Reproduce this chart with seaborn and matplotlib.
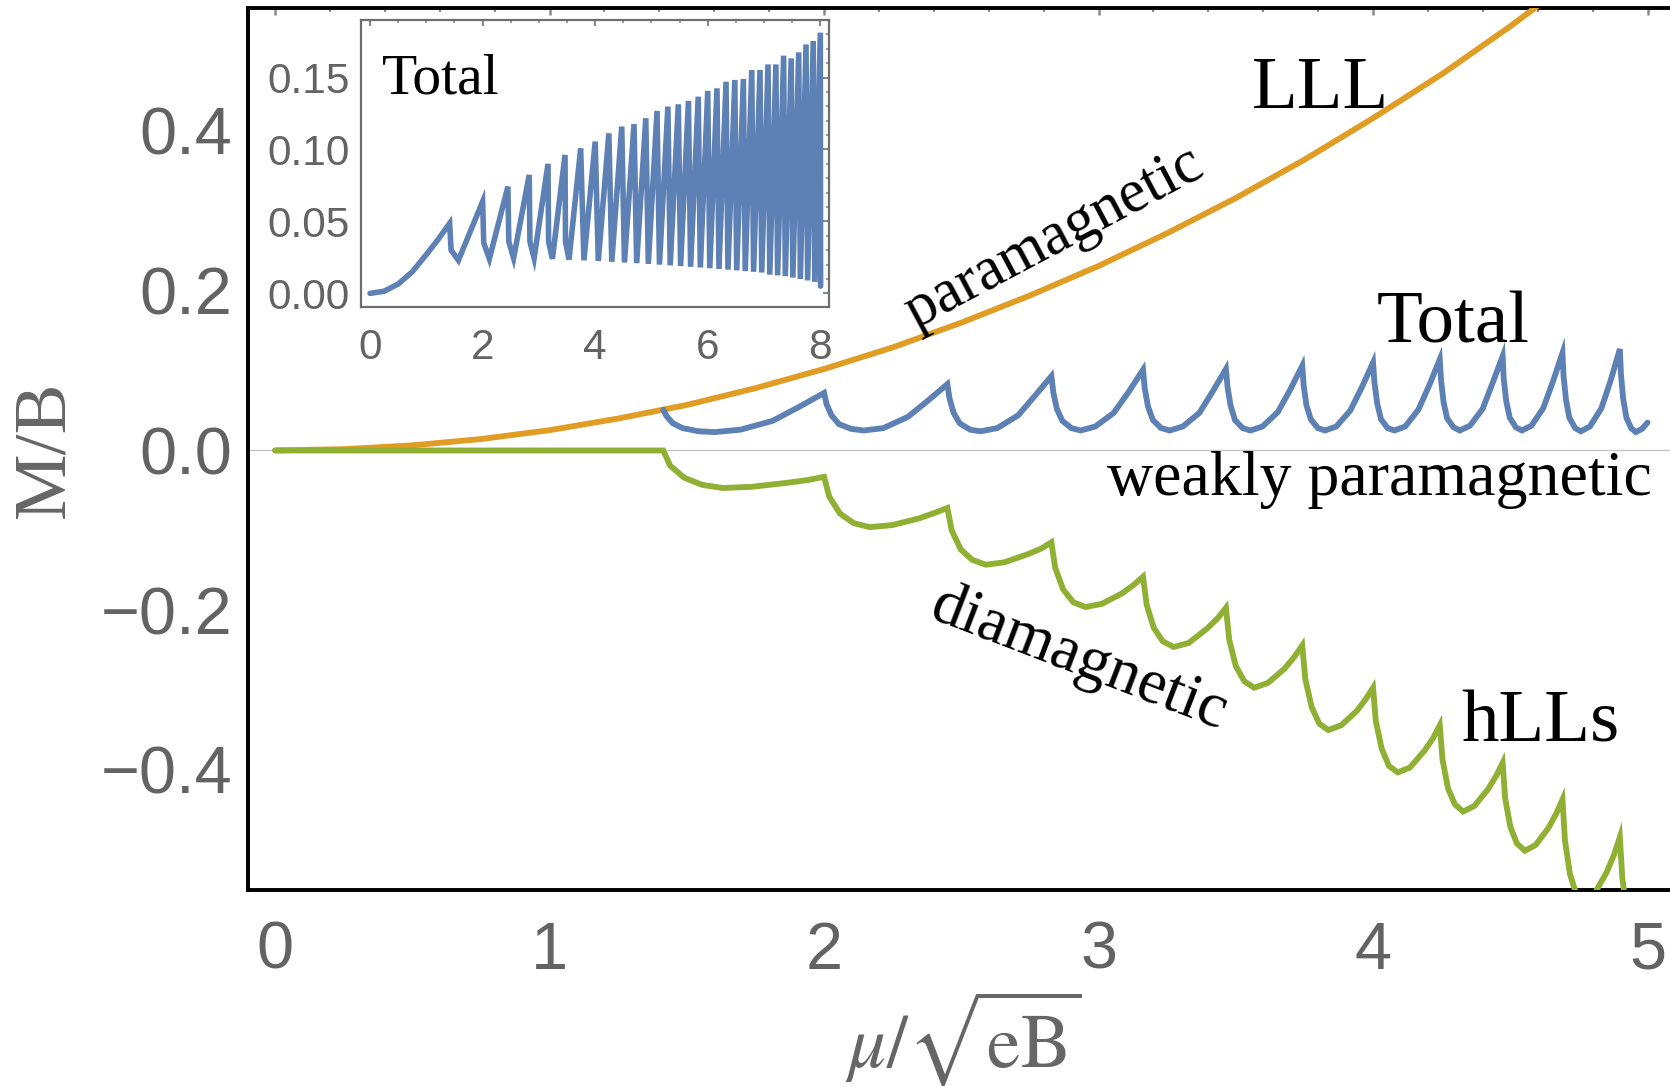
import numpy as np
import pandas as pd
import matplotlib
matplotlib.use("Agg")
import matplotlib.pyplot as plt
import seaborn as sns
from matplotlib.ticker import MultipleLocator, FixedLocator

sns.set_theme(style="white")
plt.rcParams["font.family"] = ["Liberation Sans", "DejaVu Sans"]
plt.rcParams["mathtext.fontset"] = "stix"

BLUE = "#5E81B5"
ORANGE = "#E19C24"
GREEN = "#8FB032"
TICKC = "#8a8a8a"
LABC = "#636363"

# ---------------- main plot data ----------------
lll_x = [0.0, 0.25, 0.5, 0.75, 1.0, 1.25, 1.5, 1.75, 2.0, 2.25, 2.5, 2.75,
         3.0, 3.25, 3.5, 3.75, 4.0, 4.25, 4.5, 4.75]
lll_y = [0.0, 0.0016, 0.0064, 0.0143, 0.0254, 0.040, 0.057, 0.078, 0.102,
         0.129, 0.160, 0.194, 0.231, 0.272, 0.316, 0.364, 0.416, 0.471,
         0.531, 0.595]

hll_x = [0.0, 1.414, 1.439, 1.490, 1.555, 1.631, 1.736, 1.865, 1.941,
         2.0, 2.019, 2.058, 2.108, 2.166, 2.247, 2.346, 2.404,
         2.449, 2.465, 2.498, 2.540, 2.589, 2.657, 2.741, 2.790,
         2.828, 2.842, 2.871, 2.908, 2.952, 3.012, 3.085, 3.129,
         3.162, 3.175, 3.201, 3.234, 3.274, 3.328, 3.395, 3.434,
         3.464, 3.476, 3.500, 3.531, 3.567, 3.617, 3.678, 3.714,
         3.742, 3.753, 3.776, 3.804, 3.837, 3.884, 3.941, 3.974,
         4.000, 4.010, 4.032, 4.058, 4.090, 4.134, 4.187, 4.219,
         4.243, 4.253, 4.273, 4.298, 4.328, 4.369, 4.419, 4.449,
         4.472, 4.481, 4.500, 4.524, 4.553, 4.592, 4.640, 4.668,
         4.690, 4.699, 4.717, 4.740, 4.767, 4.805, 4.851, 4.878,
         4.899, 4.908, 4.925, 4.950, 5.0]
hll_y = [0.0, 0.0, -0.019, -0.034, -0.043, -0.047, -0.0455, -0.0405, -0.037,
         -0.033, -0.058, -0.079, -0.091, -0.096, -0.0935, -0.085, -0.078,
         -0.072, -0.100, -0.124, -0.137, -0.143, -0.140, -0.130, -0.123,
         -0.115, -0.147, -0.174, -0.190, -0.196, -0.192, -0.179, -0.168,
         -0.158, -0.193, -0.222, -0.239, -0.246, -0.241, -0.223, -0.210,
         -0.197, -0.237, -0.270, -0.289, -0.297, -0.291, -0.273, -0.258,
         -0.244, -0.286, -0.321, -0.342, -0.350, -0.344, -0.326, -0.311,
         -0.297, -0.339, -0.374, -0.395, -0.403, -0.397, -0.376, -0.360,
         -0.344, -0.387, -0.423, -0.443, -0.452, -0.445, -0.424, -0.407,
         -0.391, -0.435, -0.471, -0.492, -0.501, -0.494, -0.472, -0.454,
         -0.437, -0.488, -0.530, -0.555, -0.565, -0.556, -0.528, -0.506,
         -0.484, -0.535, -0.580, -0.610, -0.620]

tot_x = [1.414, 1.426, 1.449, 1.484, 1.543, 1.602, 1.695, 1.812, 1.906,
         2.000, 2.009, 2.027, 2.054, 2.099, 2.144, 2.216, 2.305, 2.377,
         2.449, 2.457, 2.472, 2.494, 2.532, 2.570, 2.631, 2.707, 2.767,
         2.828, 2.835, 2.848, 2.868, 2.901, 2.935, 2.988, 3.055, 3.109,
         3.162, 3.168, 3.180, 3.198, 3.228, 3.259, 3.307, 3.367, 3.416,
         3.464, 3.470, 3.481, 3.497, 3.525, 3.553, 3.597, 3.653, 3.698,
         3.742, 3.747, 3.757, 3.773, 3.799, 3.825, 3.866, 3.917, 3.959,
         4.000, 4.005, 4.015, 4.029, 4.053, 4.078, 4.117, 4.165, 4.204,
         4.243, 4.248, 4.257, 4.270, 4.293, 4.316, 4.353, 4.399, 4.435,
         4.472, 4.476, 4.485, 4.498, 4.520, 4.542, 4.577, 4.620, 4.655,
         4.690, 4.694, 4.703, 4.715, 4.736, 4.757, 4.790, 4.832, 4.866,
         4.899, 4.903, 4.911, 4.923, 4.940, 4.957, 4.980, 5.0]
tot_y = [0.051, 0.043, 0.034, 0.028, 0.024, 0.023, 0.026, 0.037, 0.054,
         0.072, 0.058, 0.044, 0.033, 0.027, 0.025, 0.028, 0.042, 0.062,
         0.083, 0.065, 0.047, 0.034, 0.026, 0.024, 0.028, 0.044, 0.068,
         0.093, 0.073, 0.052, 0.037, 0.028, 0.025, 0.030, 0.047, 0.073,
         0.101, 0.078, 0.055, 0.038, 0.028, 0.025, 0.030, 0.047, 0.074,
         0.102, 0.079, 0.056, 0.038, 0.028, 0.025, 0.030, 0.048, 0.076,
         0.106, 0.082, 0.057, 0.039, 0.028, 0.025, 0.030, 0.050, 0.079,
         0.110, 0.085, 0.059, 0.039, 0.028, 0.025, 0.030, 0.051, 0.081,
         0.114, 0.087, 0.060, 0.040, 0.029, 0.025, 0.031, 0.052, 0.084,
         0.118, 0.090, 0.062, 0.041, 0.029, 0.025, 0.031, 0.053, 0.086,
         0.122, 0.093, 0.063, 0.041, 0.028, 0.024, 0.030, 0.053, 0.088,
         0.127, 0.096, 0.065, 0.041, 0.028, 0.023, 0.027, 0.035]

main_xticks = [0, 1, 2, 3, 4, 5]
main_xlabels = ["0", "1", "2", "3", "4", "5"]
main_yticks = [-0.4, -0.2, 0.0, 0.2, 0.4]
main_ylabels = ["\u22120.4", "\u22120.2", "0.0", "0.2", "0.4"]

# ---------------- inset data ----------------
ins_rise_x = [0.0, 0.25, 0.5, 0.75, 1.0, 1.2]
ins_rise_y = [0.0, 0.0015, 0.0065, 0.015, 0.027, 0.037]
ins_cusp_x = [1.414, 2.000, 2.449, 2.828, 3.162, 3.464, 3.742, 4.000,
              4.243, 4.472, 4.690, 4.899, 5.099, 5.292, 5.477, 5.657,
              5.831, 6.000, 6.164, 6.325, 6.481, 6.633, 6.782, 6.928,
              7.071, 7.211, 7.348, 7.483, 7.616, 7.746, 7.874, 8.000]
ins_peak_y = [0.0487, 0.0638, 0.0742, 0.0823, 0.0900, 0.0962, 0.1008, 0.1055,
              0.1112, 0.1159, 0.1177, 0.1217, 0.1268, 0.1298, 0.1314, 0.1337,
              0.1367, 0.1407, 0.1425, 0.1471, 0.1483, 0.1490, 0.1552, 0.1552,
              0.1591, 0.1591, 0.1652, 0.1633, 0.1675, 0.1730, 0.1754, 0.1812]
ins_drop_x = [1.44, 2.02, 2.465, 2.84, 3.172, 3.472]
ins_drop_y = [0.030, 0.035, 0.036, 0.036, 0.036, 0.036]
ins_trough_x = [1.57, 2.12, 2.55, 2.915, 3.24, 3.535, 3.80, 4.055,
                4.295, 4.52, 4.737, 4.944, 5.142, 5.333, 5.517, 5.695,
                5.868, 6.036, 6.199, 6.359, 6.514, 6.666, 6.814, 6.959,
                7.102, 7.241, 7.378, 7.512, 7.645, 7.774, 7.902]
ins_trough_y = [0.023, 0.024, 0.0245, 0.0245, 0.024, 0.0235, 0.023, 0.0225,
                0.022, 0.0215, 0.021, 0.0205, 0.020, 0.0195, 0.019, 0.0185,
                0.018, 0.0175, 0.017, 0.0165, 0.016, 0.0155, 0.015, 0.0145,
                0.013, 0.0125, 0.012, 0.011, 0.010, 0.009, 0.008]
ins_end_x = [8.005]
ins_end_y = [0.005]

ins_xticks = [0, 2, 4, 6, 8]
ins_xlabels = ["0", "2", "4", "6", "8"]
ins_yticks = [0.0, 0.05, 0.10, 0.15]
ins_ylabels = ["0.00", "0.05", "0.10", "0.15"]

# build inset table
ix, iy = list(ins_rise_x), list(ins_rise_y)
for n in range(len(ins_cusp_x)):
    ix.append(ins_cusp_x[n]); iy.append(ins_peak_y[n])
    if n < len(ins_drop_x):
        ix.append(ins_drop_x[n]); iy.append(ins_drop_y[n])
    if n < len(ins_trough_x):
        ix.append(ins_trough_x[n]); iy.append(ins_trough_y[n])
ix += ins_end_x; iy += ins_end_y
df_ins = pd.DataFrame({"x": ix, "y": iy})

df_lll = pd.DataFrame({"x": lll_x, "y": lll_y})
df_hll = pd.DataFrame({"x": hll_x, "y": hll_y})
df_tot = pd.DataFrame({"x": tot_x, "y": tot_y})

# ---------------- figure ----------------
fig = plt.figure(figsize=(16.7, 10.86), dpi=100)
fig.patch.set_facecolor("white")
ax = fig.add_axes([0.1483, 0.1805, 0.8547, 0.8117])
ax.set_facecolor("white")

ax.axhline(0, color="#c4c4c4", linewidth=0.9, zorder=1)
LW = 4.2
for df, col, z in [(df_lll, ORANGE, 3), (df_hll, GREEN, 3), (df_tot, BLUE, 4)]:
    sns.lineplot(data=df, x="x", y="y", ax=ax, color=col, linewidth=LW,
                 sort=False, estimator=None, zorder=z)
for ln in ax.get_lines()[1:]:
    ln.set_linewidth(LW)
    ln.set_solid_joinstyle("miter")

ax.set_xlim(-0.1, 5.1)
ax.set_ylim(-0.5502, 0.5533)
for s in ["left", "top", "bottom"]:
    ax.spines[s].set_color("black")
    ax.spines[s].set_linewidth(2.8)
ax.spines["right"].set_visible(False)

ax.xaxis.set_major_locator(FixedLocator(main_xticks))
ax.set_xticklabels(main_xlabels)
ax.xaxis.set_minor_locator(MultipleLocator(0.2))
ax.yaxis.set_major_locator(FixedLocator(main_yticks))
ax.set_yticklabels(main_ylabels)
ax.yaxis.set_minor_locator(MultipleLocator(0.05))
ax.tick_params(which="both", direction="in", color=TICKC, top=True,
               right=False, labelcolor=LABC)
ax.tick_params(which="major", length=5, width=1.8, labelsize=48)
ax.tick_params(which="minor", length=3, width=1.4)
ax.tick_params(axis="x", which="major", pad=22)
ax.tick_params(axis="y", which="major", pad=11)

ax.set_xlabel(r"$\mu/\sqrt{\mathrm{eB}}$", fontsize=54, color="#666666")
ax.xaxis.set_label_coords(0.501, -0.112)
ax.set_ylabel("M/B", fontsize=54, color="#666666", family="Liberation Serif")
ax.yaxis.set_label_coords(-0.118, 0.5)

SERIF = ["Liberation Serif", "DejaVu Serif"]
ax.text(3.81, 0.429, "LLL", fontsize=54, family=SERIF, ha="center", va="baseline", color="black")
ax.text(4.292, 0.1346, "Total", fontsize=54, family=SERIF, ha="center", va="baseline", color="black")
ax.text(4.024, -0.0557, "weakly paramagnetic", fontsize=46, family=SERIF, ha="center", va="baseline", color="black")
ax.text(4.61, -0.3646, "hLLs", fontsize=54, family=SERIF, ha="center", va="baseline", color="black")
ax.text(2.84, 0.266, "paramagnetic", fontsize=44, family=SERIF, ha="center", va="center",
        rotation=28, rotation_mode="anchor", color="black")
ax.text(2.93, -0.262, "diamagnetic", fontsize=46, family=SERIF, ha="center", va="center",
        rotation=-21, rotation_mode="anchor", color="black")

# ---------------- inset ----------------
axi = fig.add_axes([0.2162, 0.717, 0.2804, 0.2646])
axi.set_facecolor("white")
sns.lineplot(data=df_ins, x="x", y="y", ax=axi, color=BLUE, linewidth=4.0,
             sort=False, estimator=None)
for ln in axi.get_lines():
    ln.set_linewidth(4.0)
    ln.set_solid_joinstyle("miter")
axi.set_xlim(-0.16, 8.16)
axi.set_ylim(-0.0097, 0.190)
for s in axi.spines.values():
    s.set_color("#6e6e6e")
    s.set_linewidth(1.6)
    s.set_visible(True)
axi.xaxis.set_major_locator(FixedLocator(ins_xticks))
axi.set_xticklabels(ins_xlabels)
axi.xaxis.set_minor_locator(MultipleLocator(0.5))
axi.yaxis.set_major_locator(FixedLocator(ins_yticks))
axi.set_yticklabels(ins_ylabels)
axi.yaxis.set_minor_locator(MultipleLocator(0.01))
axi.tick_params(which="both", direction="in", color=TICKC, top=True,
                right=True, labelcolor=LABC)
axi.tick_params(which="major", length=4, width=1.5, labelsize=30.5)
axi.tick_params(which="minor", length=2.5, width=1.2)
axi.tick_params(axis="x", which="major", pad=15)
axi.tick_params(axis="y", which="major", pad=8)
axi.set_xlabel("")
axi.set_ylabel("")
axi.text(0.045, 0.885, "Total", transform=axi.transAxes, fontsize=41.5,
         family=SERIF, ha="left", va="top", color="black")

fig.savefig("out.png", dpi=100, facecolor="white")
